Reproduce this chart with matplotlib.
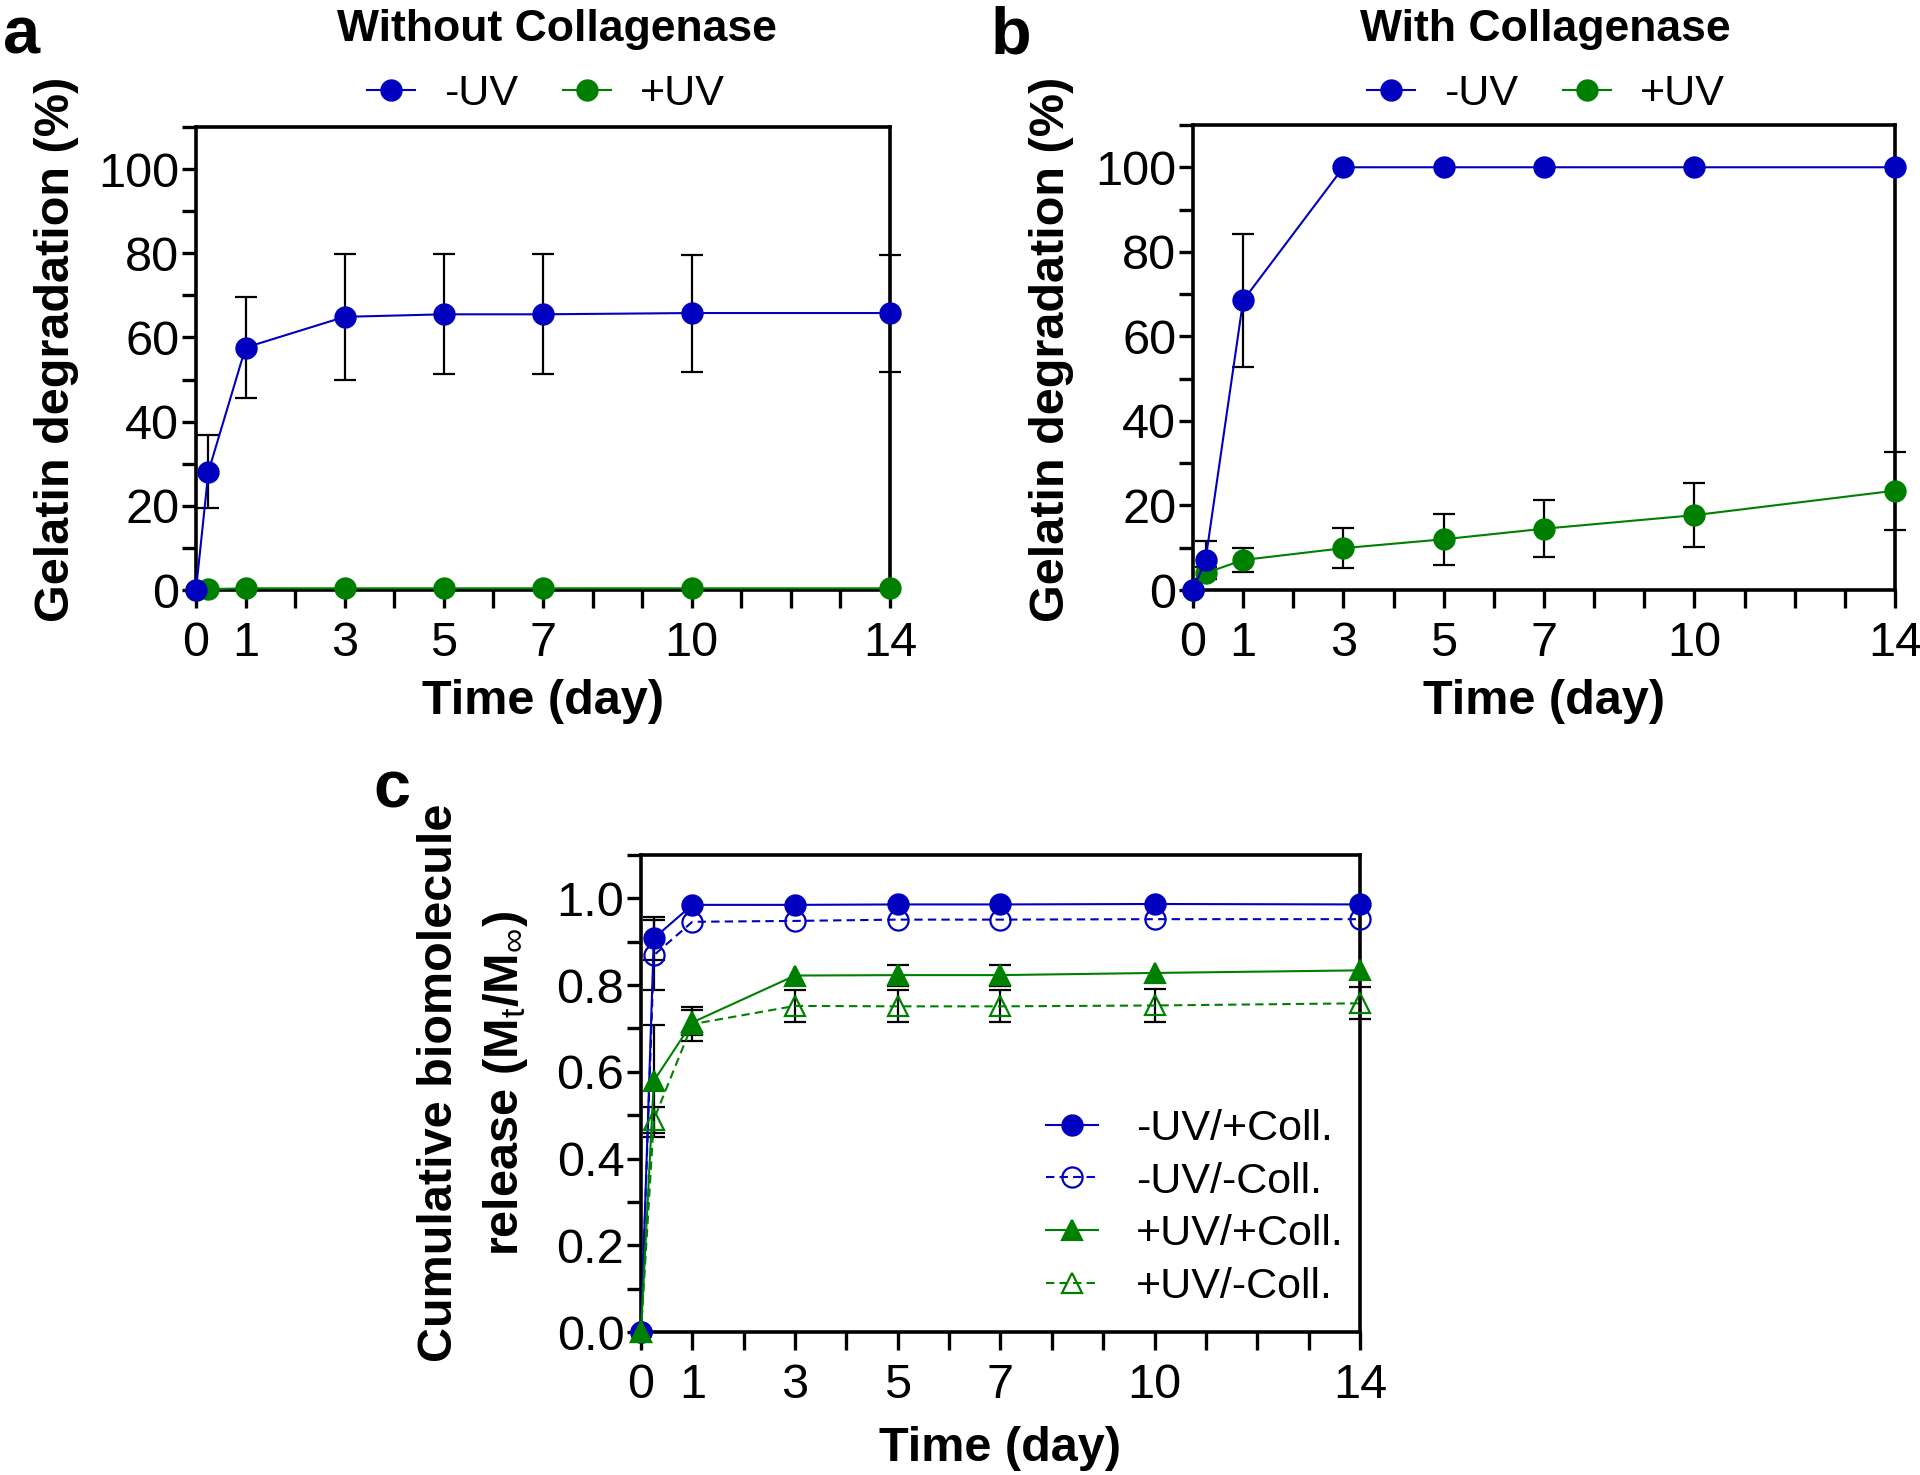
import numpy as np
import matplotlib
matplotlib.use("Agg")
import matplotlib.pyplot as plt
from matplotlib.ticker import MultipleLocator, FixedLocator

plt.rcParams["font.family"] = ["Liberation Sans", "DejaVu Sans"]
plt.rcParams["mathtext.fontset"] = "custom"
plt.rcParams["mathtext.rm"] = "Liberation Sans"
plt.rcParams["mathtext.bf"] = "Liberation Sans:bold"
plt.rcParams["mathtext.it"] = "Liberation Sans:italic"

# ---- data ----
days = [0, 0.25, 1, 3, 5, 7, 10, 14]
tick_days = list(range(15))
labelled_days = [0, 1, 3, 5, 7, 10, 14]

# panel a: without collagenase
a_minus_uv = [0, 28.1, 57.6, 64.9, 65.5, 65.5, 65.8, 65.8]
a_minus_uv_err = [0, 8.7, 12.0, 15.0, 14.3, 14.3, 13.9, 13.9]
a_plus_uv = [0, 0.2, 0.4, 0.4, 0.4, 0.4, 0.4, 0.4]
a_plus_uv_err = [0, 0, 0, 0, 0, 0, 0, 0]

# panel b: with collagenase
b_minus_uv = [0, 7.1, 68.5, 100, 100, 100, 100, 100]
b_minus_uv_err = [0, 4.4, 15.8, 0, 0, 0, 0, 0]
b_plus_uv = [0, 4.0, 7.1, 9.9, 12.0, 14.5, 17.7, 23.5]
b_plus_uv_err = [0, 1.5, 2.8, 4.7, 6.0, 6.7, 7.6, 9.2]

# panel c: cumulative release
c_labels = ["-UV/+Coll.", "-UV/-Coll.", "+UV/+Coll.", "+UV/-Coll."]
c_uvm_collp = [0, 0.908, 0.985, 0.985, 0.986, 0.986, 0.987, 0.986]
c_uvm_collp_err = [0, 0.05, 0, 0, 0, 0, 0, 0]
c_uvm_collm = [0, 0.869, 0.946, 0.948, 0.951, 0.951, 0.952, 0.952]
c_uvm_collm_err = [0, 0.08, 0, 0, 0, 0, 0, 0]
c_uvp_collp = [0, 0.579, 0.714, 0.822, 0.823, 0.823, 0.828, 0.834]
c_uvp_collp_err = [0, 0.13, 0.028, 0, 0.024, 0.024, 0, 0]
c_uvp_collm = [0, 0.49, 0.71, 0.752, 0.751, 0.751, 0.753, 0.758]
c_uvp_collm_err = [0, 0.03, 0.04, 0.036, 0.037, 0.037, 0.037, 0.037]

BLUE = "#0000BE"
GREEN = "#008000"

W, H = 1920, 1475
fig = plt.figure(figsize=(W / 100, H / 100), dpi=100)


def px_axes(left, top, right, bottom):
    return fig.add_axes([left / W, 1 - bottom / H, (right - left) / W, (bottom - top) / H])


def series(ax, y, err, color, marker="o", ls="-", filled=True, label=None):
    y = np.asarray(y, dtype=float)
    err = np.asarray(err, dtype=float)
    x = np.asarray(days, dtype=float)
    m = err > 0
    if m.any():
        eb = ax.errorbar(x[m], y[m], yerr=err[m], fmt="none", ecolor="black",
                         elinewidth=1.6, capsize=8, capthick=1.6, zorder=2)
        for art in eb.get_children():
            art.set_clip_on(False)
    ax.plot(x, y, color=color, lw=1.5, ls=ls, marker=marker, ms=14.5,
            mfc=color if filled else "none", mec=color, mew=1.6,
            zorder=3, clip_on=False, label=label)


def style(ax, ymax, ymajor, yminor, fmt, xlabelpad):
    for s in ax.spines.values():
        s.set_linewidth(2.6)
    ax.xaxis.set_major_locator(FixedLocator(tick_days))
    ax.set_xticklabels([str(d) if d in labelled_days else "" for d in tick_days])
    yt = np.arange(0, ymax + 1e-9, ymajor)
    ax.set_yticks(yt)
    ax.set_yticklabels([fmt.format(t) for t in yt])
    ax.yaxis.set_minor_locator(MultipleLocator(yminor))
    ax.set_xlim(0, 14)
    ax.set_ylim(0, ymax)
    ax.tick_params(axis="x", which="both", direction="out", length=13, width=2.4,
                   labelsize=35, pad=9)
    ax.tick_params(axis="y", which="both", direction="out", length=10, width=2.4,
                   labelsize=35, pad=2)
    ax.set_xlabel("Time (day)", fontsize=35, fontweight="bold", labelpad=xlabelpad)


# ---- panel a ----
ax_a = px_axes(196, 127, 890, 590)
series(ax_a, a_plus_uv, a_plus_uv_err, GREEN, label="+UV")
series(ax_a, a_minus_uv, a_minus_uv_err, BLUE, label="-UV")
style(ax_a, 110, 20, 10, "{:.0f}", 10)

# ---- panel b ----
ax_b = px_axes(1193, 125, 1895, 590)
series(ax_b, b_plus_uv, b_plus_uv_err, GREEN, label="+UV")
series(ax_b, b_minus_uv, b_minus_uv_err, BLUE, label="-UV")
style(ax_b, 110, 20, 10, "{:.0f}", 10)

for ax, cx in [(ax_a, 546), (ax_b, 1546)]:
    h, l = ax.get_legend_handles_labels()
    ax.legend(h[::-1], l[::-1], loc="center", bbox_to_anchor=(cx / W, 1 - 94 / H),
              bbox_transform=fig.transFigure, ncol=2, frameon=False, fontsize=31,
              handlelength=1.12, handletextpad=0.67, columnspacing=1.05,
              numpoints=1, borderpad=0)

# ---- panel c ----
ax_c = px_axes(641, 855, 1360, 1332)
series(ax_c, c_uvm_collp, c_uvm_collp_err, BLUE, "o", "-", True, c_labels[0])
series(ax_c, c_uvm_collm, c_uvm_collm_err, BLUE, "o", (0, (4, 2.5)), False, c_labels[1])
series(ax_c, c_uvp_collp, c_uvp_collp_err, GREEN, "^", "-", True, c_labels[2])
series(ax_c, c_uvp_collm, c_uvp_collm_err, GREEN, "^", (0, (4, 2.5)), False, c_labels[3])
style(ax_c, 1.1, 0.2, 0.1, "{:.1f}", 13)
ax_c.legend(loc="center", bbox_to_anchor=(1195 / W, 1 - 1208 / H),
            bbox_transform=fig.transFigure, frameon=False, fontsize=31,
            handlelength=1.2, handletextpad=0.9, labelspacing=0.3,
            numpoints=1, borderpad=0)

# ---- titles, y labels, panel letters ----
fig.text(557 / W, 1 - 29 / H, "Without Collagenase", fontsize=32, fontweight="bold",
         ha="center", va="center")
fig.text(1545 / W, 1 - 29 / H, "With Collagenase", fontsize=32, fontweight="bold",
         ha="center", va="center")
fig.text(57 / W, 1 - 349 / H, "Gelatin degradation (%)", fontsize=35, fontweight="bold",
         rotation=90, ha="center", va="center")
fig.text(1051 / W, 1 - 349 / H, "Gelatin degradation (%)", fontsize=35, fontweight="bold",
         rotation=90, ha="center", va="center")
fig.text(440 / W, 1 - 1083 / H, "Cumulative biomolecule", fontsize=35, fontweight="bold",
         rotation=90, ha="center", va="center")
fig.text(506 / W, 1 - 1084 / H, r"release (M$_{\mathrm{t}}$/M$_{\mathrm{\infty}}$)",
         fontsize=35, fontweight="bold", rotation=90, ha="center", va="center")
fig.text(3 / W, 1 - 54 / H, "a", fontsize=48, fontweight="bold", ha="left", va="baseline")
fig.text(991 / W, 1 - 54 / H, "b", fontsize=48, fontweight="bold", ha="left", va="baseline")
fig.text(373 / W, 1 - 808 / H, "c", fontsize=48, fontweight="bold", ha="left", va="baseline")

fig.savefig("out.png", dpi=100)
